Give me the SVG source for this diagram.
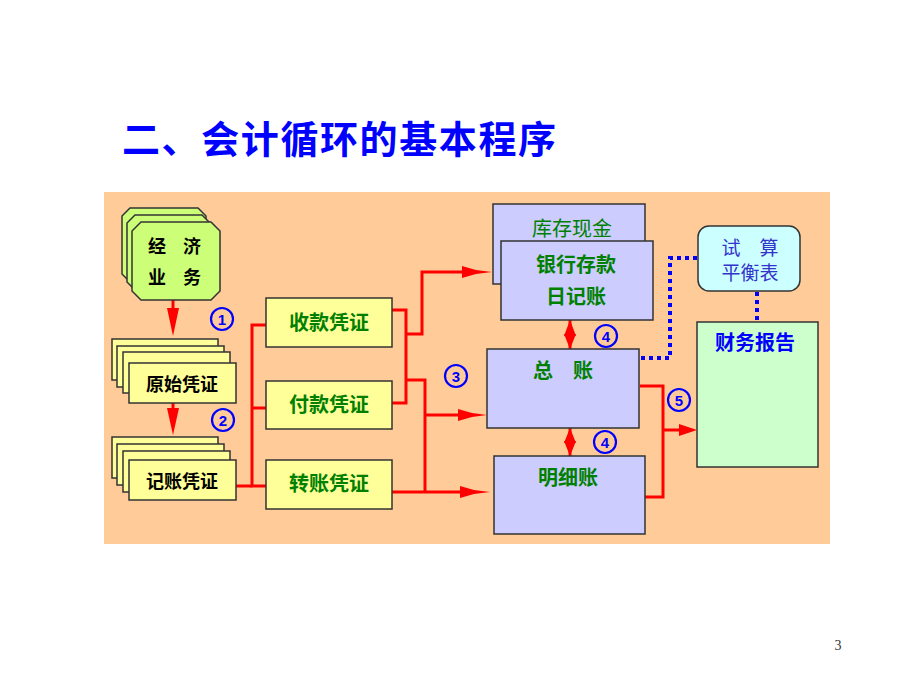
<svg xmlns="http://www.w3.org/2000/svg" width="920" height="690" viewBox="0 0 920 690">
<defs>
<style>
.cjk{font-family:"Noto Sans CJK SC","Liberation Sans",sans-serif}
.blk{font-size:18px;font-weight:bold;fill:#000}
.grn{font-size:20px;fill:#008000}
.box{stroke:#333;stroke-width:1.5}
.yel{fill:#ffff99}
.lav{fill:#ccccff}
.red{fill:none;stroke:#ff0000;stroke-width:3}
.dot{fill:none;stroke:#0000ff;stroke-width:4;stroke-dasharray:4 4}
.num{fill:none;stroke:#0000ff;stroke-width:2.2}
.numt{font-family:"Liberation Sans",sans-serif;font-size:15px;font-weight:bold;fill:#0000ff}
.ah{fill:#ff0000}
</style>
</defs>
<rect x="0" y="0" width="920" height="690" fill="#ffffff"/>
<text class="cjk" x="122" y="153" font-size="38" font-weight="bold" fill="#0000ff" textLength="434">二、会计循环的基本程序</text>
<rect x="104" y="192" width="726" height="352" fill="#ffcc99"/>

<g id="connectors">
  <line class="red" x1="173" y1="300" x2="173" y2="312"/>
  <polygon class="ah" points="167,308 179,308 173,336"/>
  <line class="red" x1="173" y1="403" x2="173" y2="412"/>
  <polygon class="ah" points="167,408 179,408 173,435"/>
  <polyline class="red" points="236,486 252,486"/>
  <polyline class="red" points="266,325 252,325 252,486 266,486"/>
  <line class="red" x1="252" y1="408" x2="266" y2="408"/>
  <polyline class="red" points="392,310 406,310 406,403 392,403"/>
  <polyline class="red" points="406,334 422,334 422,272 470,272"/>
  <polygon class="ah" points="462,266 476,270 492,272 476,274 462,278"/>
  <polyline class="red" points="406,380 425,380 425,492"/>
  <polyline class="red" points="392,492 470,492"/>
  <polygon class="ah" points="460,486 474,490 490,492 474,494 460,498"/>
  <polyline class="red" points="425,415 466,415"/>
  <polygon class="ah" points="458,409 472,413 487,415 472,417 458,421"/>
  <line class="red" x1="570" y1="320" x2="570" y2="349"/>
  <polygon class="ah" points="570,320 564,336 576,336"/>
  <polygon class="ah" points="570,349 564,334 576,334"/>
  <line class="red" x1="570" y1="428" x2="570" y2="456"/>
  <polygon class="ah" points="570,428 564,443 576,443"/>
  <polygon class="ah" points="570,456 564,441 576,441"/>
  <polyline class="red" points="640,386 663,386 663,497 645,497"/>
  <line class="red" x1="663" y1="430" x2="684" y2="430"/>
  <polygon class="ah" points="679,424 697,430 679,436"/>
  <polyline class="dot" points="641,358 670,358 670,258 698,258"/>
  <line class="dot" x1="757" y1="292" x2="757" y2="322"/>
</g>

<g id="n-business">
  <path d="M130,208 L198,208 L206,216 L206,274 L198,282 L130,282 L122,274 L122,216 Z" fill="#ccff77" stroke="#333" stroke-width="1.5"/>
  <path d="M135,215 L202,215 L210,223 L210,282 L202,290 L135,290 L127,282 L127,223 Z" fill="#ccff77" stroke="#333" stroke-width="1.5"/>
  <path d="M141,222 L211,222 L220,231 L220,291 L211,300 L141,300 L132,291 L132,231 Z" fill="#ccff77" stroke="#333" stroke-width="1.5"/>
  <text class="cjk blk" x="157" y="253" text-anchor="middle">经</text>
  <text class="cjk blk" x="192" y="253" text-anchor="middle">济</text>
  <text class="cjk blk" x="157" y="284" text-anchor="middle">业</text>
  <text class="cjk blk" x="192" y="284" text-anchor="middle">务</text>
</g>

<g id="n-original">
  <rect class="box yel" x="112" y="339" width="106" height="41"/>
  <rect class="box yel" x="117" y="346" width="107" height="41"/>
  <rect class="box yel" x="123" y="352" width="107" height="41"/>
  <rect class="box yel" x="129" y="363" width="107" height="40"/>
  <text class="cjk blk" x="182" y="391" text-anchor="middle">原始凭证</text>
</g>

<g id="n-bookkeeping">
  <rect class="box yel" x="112" y="437" width="106" height="41"/>
  <rect class="box yel" x="117" y="444" width="107" height="41"/>
  <rect class="box yel" x="123" y="451" width="107" height="41"/>
  <rect class="box yel" x="129" y="460" width="107" height="40"/>
  <text class="cjk blk" x="182" y="488" text-anchor="middle">记账凭证</text>
</g>

<g id="n-receipt">
  <rect class="box yel" x="266" y="298" width="126" height="49"/>
  <text class="cjk grn" x="329" y="330" text-anchor="middle" font-weight="bold">收款凭证</text>
</g>
<g id="n-payment">
  <rect class="box yel" x="266" y="381" width="126" height="48"/>
  <text class="cjk grn" x="329" y="412" text-anchor="middle" font-weight="bold">付款凭证</text>
</g>
<g id="n-transfer">
  <rect class="box yel" x="266" y="460" width="126" height="49"/>
  <text class="cjk grn" x="329" y="491" text-anchor="middle" font-weight="bold">转账凭证</text>
</g>

<g id="n-cash">
  <rect class="box lav" x="493" y="204" width="152" height="80"/>
  <text class="cjk grn" x="572" y="236" text-anchor="middle" font-size="22">库存现金</text>
</g>
<g id="n-bank">
  <rect class="box lav" x="501" y="241" width="152" height="79"/>
  <text class="cjk grn" x="576" y="272" text-anchor="middle" font-weight="bold">银行存款</text>
  <text class="cjk grn" x="576" y="304" text-anchor="middle" font-weight="bold">日记账</text>
</g>
<g id="n-general">
  <rect class="box lav" x="487" y="349" width="152" height="79"/>
  <text class="cjk grn" x="563" y="378" text-anchor="middle" font-weight="bold">总　账</text>
</g>
<g id="n-detail">
  <rect class="box lav" x="494" y="456" width="151" height="78"/>
  <text class="cjk grn" x="568" y="485" text-anchor="middle" font-weight="bold">明细账</text>
</g>

<g id="n-trial">
  <rect x="698" y="226" width="102" height="65" rx="11" fill="#ccffff" stroke="#333" stroke-width="1.5"/>
  <text class="cjk" x="750" y="255" text-anchor="middle" font-size="19" fill="#3333cc">试　算</text>
  <text class="cjk" x="750" y="280" text-anchor="middle" font-size="19" fill="#3333cc">平衡表</text>
</g>
<g id="n-report">
  <rect x="697" y="322" width="121" height="145" fill="#ccffcc" stroke="#333" stroke-width="1.5"/>
  <text class="cjk" x="755" y="350" text-anchor="middle" font-size="20" font-weight="bold" fill="#0000ff">财务报告</text>
</g>

<g id="labels">
  <circle class="num" cx="222" cy="319" r="11"/><text class="numt" x="222" y="324.5" text-anchor="middle">1</text>
  <circle class="num" cx="223" cy="420" r="11"/><text class="numt" x="223" y="425.5" text-anchor="middle">2</text>
  <circle class="num" cx="456" cy="376" r="11"/><text class="numt" x="456" y="381.5" text-anchor="middle">3</text>
  <circle class="num" cx="606" cy="336" r="11"/><text class="numt" x="606" y="341.5" text-anchor="middle">4</text>
  <circle class="num" cx="605" cy="442" r="11"/><text class="numt" x="605" y="447.5" text-anchor="middle">4</text>
  <circle class="num" cx="679" cy="400" r="11"/><text class="numt" x="679" y="405.5" text-anchor="middle">5</text>
</g>

<text x="838" y="650" font-family="Liberation Serif,serif" font-size="14" fill="#333" text-anchor="middle">3</text>
</svg>
